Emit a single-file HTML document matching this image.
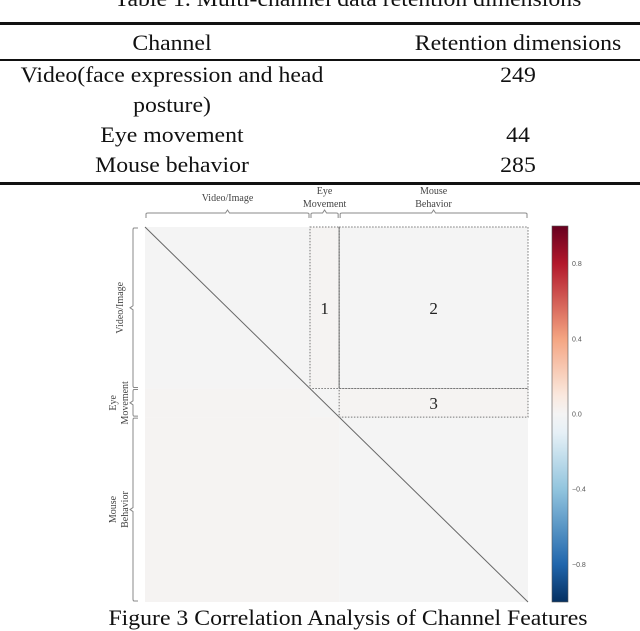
<!DOCTYPE html>
<html><head><meta charset="utf-8"><style>
html,body{margin:0;padding:0;background:#fff;}
body{width:640px;height:631px;overflow:hidden;position:relative;font-family:"Liberation Serif",serif;color:#111;}
.t{position:absolute;font-size:22px;white-space:nowrap;transform:translateX(-50%) scaleX(1.08);line-height:1;}
.rule{position:absolute;left:0;width:640px;background:#111;}
</style></head><body>
<div class="t" style="left:348px;top:-12px;">Table 1. Multi-channel data retention dimensions</div>
<div class="rule" style="top:22px;height:3px;"></div>
<div class="t" style="left:172px;top:32px;">Channel</div>
<div class="t" style="left:518px;top:32px;">Retention dimensions</div>
<div class="rule" style="top:59px;height:2px;"></div>
<div class="t" style="left:172px;top:64px;">Video(face expression and head</div>
<div class="t" style="left:172px;top:94px;">posture)</div>
<div class="t" style="left:518px;top:64px;">249</div>
<div class="t" style="left:172px;top:124px;">Eye movement</div>
<div class="t" style="left:518px;top:124px;">44</div>
<div class="t" style="left:172px;top:154px;">Mouse behavior</div>
<div class="t" style="left:518px;top:154px;">285</div>
<div class="rule" style="top:182px;height:3px;"></div>

<svg id="chart" width="640" height="631" style="position:absolute;left:0;top:0;" xmlns="http://www.w3.org/2000/svg"></svg>

<div class="t" style="left:348px;top:607px;">Figure 3 Correlation Analysis of Channel Features</div>

<script>
const channels = ["Video/Image", "Eye Movement", "Mouse Behavior"];
const dims = [249, 44, 285];
// mean correlation per block [row][col]
const blockValues = [
  [0.0, 0.01, 0.0],
  [0.01, 0.0, 0.01],
  [0.01, 0.01, 0.0]
];
const cbTicks = [0.8, 0.4, 0.0, -0.4, -0.8];
const cbTickLabels = ["0.8", "0.4", "0.0", "\u22120.4", "\u22120.8"];
const boxLabels = ["1", "2", "3"];

const NS = "http://www.w3.org/2000/svg";
const svg = document.getElementById('chart');
function mk(tag, attrs, parent){const e=document.createElementNS(NS,tag);for(const k in attrs)e.setAttribute(k,attrs[k]);(parent||svg).appendChild(e);return e;}

const X0=145, X1=528, Y0=227, Y1=602;
const total = dims.reduce((a,b)=>a+b,0);
const xs = d => X0 + (X1-X0)*d/total;
const ys = d => Y0 + (Y1-Y0)*d/total;
const cum=[0]; dims.forEach(d=>cum.push(cum[cum.length-1]+d));

const stops=[[-1,[5,48,97]],[-0.8,[33,102,172]],[-0.4,[146,197,222]],[-0.1,[230,240,246]],[0,[244,244,244]],[0.1,[250,232,222]],[0.4,[244,165,130]],[0.8,[178,24,43]],[1,[103,0,31]]];
function cmap(v){
  for(let i=0;i<stops.length-1;i++){const a=stops[i],b=stops[i+1];
    if(v<=b[0]){const t=(v-a[0])/(b[0]-a[0]);const c=a[1].map((x,j)=>Math.round(x+(b[1][j]-x)*t));return `rgb(${c})`;}}
  return 'rgb(103,0,31)';
}

for(let r=0;r<3;r++)for(let c=0;c<3;c++){
  const el=mk('rect',{x:xs(cum[c]),y:ys(cum[r]),width:xs(cum[c+1])-xs(cum[c]),height:ys(cum[r+1])-ys(cum[r]),fill:cmap(blockValues[r][c])});
  
  
}
const diag=mk('line',{x1:xs(0),y1:ys(0),x2:xs(total),y2:ys(total),stroke:'#666','stroke-width':1});


const sep=mk('line',{x1:xs(cum[2]),y1:ys(0),x2:xs(cum[2]),y2:ys(cum[1]),stroke:'#999','stroke-width':1.2});


const boxes=[[1,0],[2,0],[2,1]];
boxes.forEach((b,i)=>{
  const [c,r]=b;
  const bx=mk('rect',{x:xs(cum[c]),y:ys(cum[r]),width:xs(cum[c+1])-xs(cum[c]),height:ys(cum[r+1])-ys(cum[r]),fill:'none',stroke:'#777','stroke-width':1,'stroke-dasharray':'1.5,1.5'});
  
  
  const tx=mk('text',{x:(xs(cum[c])+xs(cum[c+1]))/2,y:(ys(cum[r])+ys(cum[r+1]))/2+6,'text-anchor':'middle','font-family':'Liberation Serif, serif','font-size':17,fill:'#222'});
  tx.textContent=boxLabels[i];
  
  
});
function hbrace(a,b,y){const m=(a+b)/2;return `M${a},${y+5} L${a},${y+1} Q${a},${y} ${a+2},${y} L${m-2},${y} L${m},${y-3} L${m+2},${y} L${b-2},${y} Q${b},${y} ${b},${y+1} L${b},${y+5}`;}
function vbrace(a,b,x){const m=(a+b)/2;return `M${x+5},${a} L${x+1},${a} Q${x},${a} ${x},${a+2} L${x},${m-2} L${x-3},${m} L${x},${m+2} L${x},${b-2} Q${x},${b} ${x+1},${b} L${x+5},${b}`;}
const topLabels=[["Video/Image"],["Eye","Movement"],["Mouse","Behavior"]];
for(let i=0;i<3;i++){
  const a=xs(cum[i])+1,b=xs(cum[i+1])-1;
  const p=mk('path',{d:hbrace(a,b,213),fill:'none',stroke:'#888','stroke-width':1});
  
  
  const lines=topLabels[i];
  lines.forEach((ln,k)=>{
    const y = lines.length===1 ? 201 : 194+k*13;
    const t=mk('text',{x:(a+b)/2,y:y,'text-anchor':'middle','font-family':'Liberation Serif, serif','font-size':10,fill:'#444'});
    t.textContent=ln;
    
    
  });
  const a2=ys(cum[i])+1,b2=ys(cum[i+1])-1;
  const p2=mk('path',{d:vbrace(a2,b2,133),fill:'none',stroke:'#888','stroke-width':1});
  
  
  const cy=(a2+b2)/2;
  lines.forEach((ln,k)=>{
    const x = lines.length===1 ? 123 : 116+k*12;
    const t=mk('text',{x:x,y:cy,'text-anchor':'middle','font-family':'Liberation Serif, serif','font-size':10,fill:'#444',transform:`rotate(-90 ${x} ${cy})`});
    t.textContent=ln;
    
    
  });
}
const CB={x:552,w:16,y0:226,y1:602};
const cy = v => CB.y0 + (1-v)/2*(CB.y1-CB.y0);
const defs=mk('defs',{});
const g=mk('linearGradient',{id:'cbg',x1:0,y1:0,x2:0,y2:1},defs);
for(let i=0;i<=20;i++){const v=1-i/10;mk('stop',{offset:i/20,'stop-color':cmap(v)},g);}
const cb=mk('rect',{x:CB.x,y:CB.y0,width:CB.w,height:CB.y1-CB.y0,fill:'url(#cbg)',stroke:'#555','stroke-width':0.6});


cbTicks.forEach((v,i)=>{
  const t=mk('text',{x:CB.x+CB.w+4,y:cy(v)+2.5,'font-family':'Liberation Sans, sans-serif','font-size':7,fill:'#555'});
  t.textContent=cbTickLabels[i];
  
  
});
</script>
</body></html>
